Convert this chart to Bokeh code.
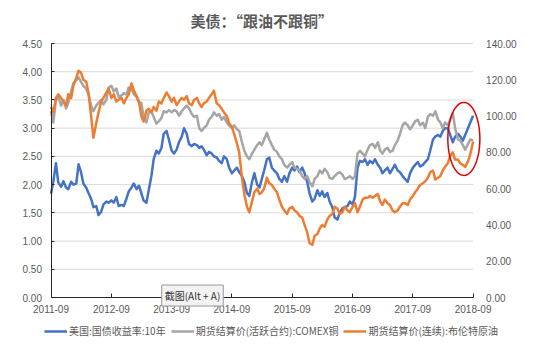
import numpy as np
import pandas as pd
from bokeh.plotting import figure
from bokeh.models import (Range1d, LinearAxis, FixedTicker, DatetimeTickFormatter,
                          Legend, LegendItem, Label, PolyAnnotation, NumeralTickFormatter)
from bokeh.embed import file_html
from bokeh.resources import INLINE

# ---------------- data (semi-monthly readings, 2011-09 .. 2018-09) ----------------
dates = pd.date_range("2011-09-01", periods=169, freq="SMS")

treasury_10y = [
    1.84, 2.05, 2.38, 2.04, 1.96, 2.06, 1.95, 1.92, 2.05, 2.00, 2.02, 2.36, 2.22, 2.02, 1.95, 1.85, 1.75, 1.60, 1.62, 1.46, 1.52, 1.65, 1.70, 1.68,
    1.72, 1.68, 1.78, 1.62, 1.64, 1.62, 1.75, 1.88, 1.95, 2.02, 1.92, 1.98, 1.85, 1.72, 1.68, 1.90, 2.15, 2.45, 2.60, 2.55, 2.65, 2.90, 2.95, 2.80,
    2.60, 2.55, 2.62, 2.75, 2.85, 3.00, 2.90, 2.72, 2.68, 2.72, 2.70, 2.65, 2.68, 2.62, 2.52, 2.58, 2.55, 2.50, 2.48, 2.42, 2.38, 2.50, 2.45, 2.30,
    2.20, 2.25, 2.30, 2.22, 2.15, 2.05, 1.85, 1.80, 2.05, 2.20, 2.00, 1.95, 2.10, 2.25, 2.45, 2.48, 2.30, 2.25, 2.20, 2.10, 2.05, 2.15, 2.05, 2.20,
    2.30, 2.25, 2.32, 2.22, 2.30, 2.20, 2.05, 1.85, 1.70, 1.75, 1.90, 1.80, 1.88, 1.78, 1.85, 1.70, 1.60, 1.42, 1.38, 1.50, 1.58, 1.60, 1.62, 1.70,
    1.65, 1.78, 2.30, 2.42, 2.40, 2.45, 2.35, 2.42, 2.38, 2.45, 2.35, 2.30, 2.20, 2.25, 2.30, 2.20, 2.28, 2.35, 2.25, 2.22, 2.15, 2.10, 2.05, 2.20,
    2.30, 2.35, 2.40, 2.32, 2.35, 2.40, 2.45, 2.60, 2.80, 2.85, 2.88, 2.85, 2.95, 3.00, 3.00, 2.88, 2.75, 2.85, 2.90, 2.85, 2.78, 2.88, 3.00, 3.10,
    3.22,
]

comex_copper = [
    3.30, 3.10, 3.50, 3.55, 3.40, 3.50, 3.35, 3.45, 3.65, 3.80, 3.85, 3.90, 3.82, 3.75, 3.70, 3.60, 3.40, 3.30, 3.40, 3.45, 3.50, 3.42, 3.50, 3.72,
    3.75, 3.65, 3.70, 3.55, 3.58, 3.62, 3.60, 3.72, 3.70, 3.60, 3.55, 3.45, 3.45, 3.20, 3.10, 3.28, 3.30, 3.20, 3.08, 3.12, 3.18, 3.30, 3.28, 3.32,
    3.28, 3.32, 3.30, 3.22, 3.30, 3.35, 3.40, 3.35, 3.25, 3.20, 3.22, 3.00, 2.95, 3.00, 3.05, 3.15, 3.20, 3.28, 3.22, 3.25, 3.15, 3.20, 3.10, 3.05,
    3.00, 3.05, 2.98, 2.95, 2.75, 2.60, 2.50, 2.45, 2.55, 2.62, 2.70, 2.75, 2.70, 2.80, 2.92, 2.80, 2.70, 2.62, 2.58, 2.50, 2.45, 2.35, 2.30, 2.35,
    2.40, 2.30, 2.28, 2.25, 2.15, 2.10, 2.15, 2.05, 1.97, 2.10, 2.15, 2.25, 2.20, 2.28, 2.22, 2.12, 2.10, 2.15, 2.20, 2.22, 2.18, 2.10, 2.12, 2.15,
    2.10, 2.15, 2.55, 2.60, 2.55, 2.50, 2.62, 2.70, 2.72, 2.65, 2.75, 2.60, 2.55, 2.62, 2.65, 2.58, 2.60, 2.70, 2.78, 2.90, 3.05, 3.10, 3.05, 2.98,
    3.05, 3.12, 3.15, 3.05, 3.10, 3.00, 3.20, 3.25, 3.22, 3.30, 3.15, 3.10, 3.00, 3.10, 3.05, 3.15, 3.27, 3.00, 2.80, 2.78, 2.70, 2.62, 2.72, 2.80,
    2.78,
]

brent_oil = [
    105, 102, 110, 112, 110, 108, 106, 112, 110, 117, 121, 125, 124, 120, 119, 113, 100, 88, 96, 102, 108, 110, 113, 115,
    110, 112, 108, 109, 110, 107, 110, 112, 118, 114, 111, 108, 100, 97, 103, 104, 102, 105, 103, 108, 107, 110, 113, 111,
    108, 110, 106, 108, 110, 109, 111, 107, 106, 109, 110, 107, 105, 107, 108, 110, 112, 114, 107, 106, 104, 102, 100, 96,
    94, 90, 85, 80, 66, 57, 50, 47, 53, 58, 60, 57, 58, 60, 66, 63, 62, 60, 58, 54, 50, 48, 46, 49,
    50, 48, 47, 45, 44, 40, 36, 30, 29, 34, 35, 38, 40, 39, 43, 45, 46, 50, 49, 46, 47, 50, 48, 47,
    50, 52, 47, 50, 54, 55, 55, 56, 55, 56, 57, 53, 51, 54, 52, 51, 48, 47, 48, 50, 52, 52, 51, 54,
    56, 58, 60, 62, 63, 64, 66, 69, 70, 65, 66, 67, 70, 72, 74, 78, 80, 76, 76, 74, 73, 72, 75, 79,
    86,
]

chart_title = "美债：“跟油不跟铜”"
series_names = ["美国:国债收益率:10年", "期货结算价(活跃合约):COMEX铜", "期货结算价(连续):布伦特原油"]
series_colors = ["#4472C4", "#A5A5A5", "#ED7D31"]
tick_labels = ["2011-09", "2012-09", "2013-09", "2014-09", "2015-09", "2016-09", "2017-09", "2018-09"]
left_ticks = [0, 0.5, 1.0, 1.5, 2.0, 2.5, 3.0, 3.5, 4.0, 4.5]
right_ticks = [0, 20, 40, 60, 80, 100, 120, 140]
left_max, right_max = 4.5, 140

TXT = "#595959"
CJK = "Noto Sans CJK SC"


def ms(ts):
    return pd.Timestamp(ts).value / 1e6


# Layout (pixels): the plot frame covers the whole canvas so that nothing outside
# the axes is clipped; the axes are pinned to the data extremes.
W, H = 550, 351
AX_L, AX_R, AX_T, AX_B = 50.5, 472.6, 43, 297

t0, t1 = ms(dates[0]), ms(dates[-1])
span = t1 - t0
x_start = t0 - span * (AX_L / (AX_R - AX_L))
x_end = t1 + span * ((W - AX_R) / (AX_R - AX_L))
unit = left_max / (AX_B - AX_T)          # left-axis units per pixel
y_lo = -unit * (H - AX_B)
y_hi = left_max + unit * AX_T

p = figure(width=W, height=H, x_axis_type="datetime", output_backend="svg",
           toolbar_location=None,
           x_range=Range1d(x_start, x_end), y_range=Range1d(y_lo, y_hi),
           min_border_left=0, min_border_right=0, min_border_top=0, min_border_bottom=0)
p.extra_y_ranges = {"oil": Range1d(y_lo * right_max / left_max, y_hi * right_max / left_max)}
p.outline_line_color = None
p.background_fill_color = "white"
p.border_fill_color = "white"
p.title.visible = False

# horizontal grid lines only across the axes' extent
p.xgrid.visible = False
p.ygrid.visible = False
n = len(left_ticks)
p.segment(x0=[t0] * n, y0=left_ticks, x1=[t1] * n, y1=left_ticks,
          line_color="#d9d9d9", line_width=1)

# x axis
xa = p.xaxis[0]
xa.fixed_location = 0
xa.bounds = (t0, t1)
xa.ticker = FixedTicker(ticks=[ms(t + "-01") for t in tick_labels])
fmt = "%Y-%m"
xa.formatter = DatetimeTickFormatter(years=fmt, months=fmt, days=fmt, hours=fmt,
                                     minutes=fmt, seconds=fmt, milliseconds=fmt,
                                     microseconds=fmt, hourmin=fmt, minsec=fmt)
xa.axis_line_color = "#262626"
xa.major_tick_line_color = "#262626"
xa.major_tick_in = 4
xa.major_tick_out = 0
xa.minor_tick_line_color = None
xa.major_label_text_font = "Liberation Sans"
xa.major_label_text_font_size = "10px"
xa.major_label_text_color = TXT
xa.major_label_standoff = 7

# left axis
ya = p.yaxis[0]
ya.fixed_location = t0
ya.bounds = (0, left_max)
ya.ticker = FixedTicker(ticks=left_ticks)
ya.formatter = NumeralTickFormatter(format="0.00")
ya.axis_line_color = "#262626"
ya.major_tick_line_color = "#262626"
ya.major_tick_in = 3
ya.major_tick_out = 0
ya.minor_tick_line_color = None
ya.major_label_text_font = "Liberation Sans"
ya.major_label_text_font_size = "10px"
ya.major_label_text_color = TXT
ya.major_label_standoff = 9

# right axis
ra = LinearAxis(y_range_name="oil", ticker=FixedTicker(ticks=right_ticks),
                formatter=NumeralTickFormatter(format="0.00"), bounds=(0, right_max))
ra.fixed_location = t1
ra.axis_line_color = None
ra.major_tick_line_color = None
ra.minor_tick_line_color = None
ra.major_label_text_font = "Liberation Sans"
ra.major_label_text_font_size = "10px"
ra.major_label_text_color = TXT
ra.major_label_standoff = 7
p.add_layout(ra, "right")

# series
r1 = p.line(dates, treasury_10y, line_color=series_colors[0], line_width=2.5, line_join="round")
r2 = p.line(dates, comex_copper, line_color=series_colors[1], line_width=2.5, line_join="round")
r3 = p.line(dates, brent_oil, line_color=series_colors[2], line_width=2.5, line_join="round",
            y_range_name="oil")

legend = Legend(items=[LegendItem(label=series_names[0], renderers=[r1]),
                       LegendItem(label=series_names[1], renderers=[r2]),
                       LegendItem(label=series_names[2], renderers=[r3])],
                location=(44, 13), orientation="horizontal",
                border_line_color=None, background_fill_alpha=0,
                label_text_font=CJK, label_text_font_size="10px", label_text_color=TXT,
                glyph_width=23, glyph_height=10, label_standoff=2, spacing=5,
                padding=0, margin=0)
p.add_layout(legend)

# title
p.add_layout(Label(x=265, y=H - 20, x_units="screen", y_units="screen",
                   text=chart_title, text_align="center", text_baseline="middle",
                   text_font=CJK, text_font_size="15px", text_font_style="bold",
                   text_color=TXT))

# red highlight ellipse
ell_center = ms("2018-07-07")
ell_half_w = 97 * 86400000.0
ell_cy, ell_half_h = 2.81, 0.647
t = np.linspace(0, 2 * np.pi, 90)
p.add_layout(PolyAnnotation(xs=list(ell_center + ell_half_w * np.cos(t)),
                            ys=list(ell_cy + ell_half_h * np.sin(t)),
                            fill_alpha=0, line_alpha=1.0,
                            line_color="#e00000", line_width=1.5))

# screenshot-tool tooltip visible in the reference
tip = Label(x=192, y=H - 295, x_units="screen", y_units="screen",
            text="截图(Alt + A)", text_align="center", text_baseline="middle",
            text_font=CJK, text_font_size="10px", text_color="#333333",
            background_fill_color="#f3f3f3", border_line_color="#9a9a9a",
            padding=3)
p.add_layout(tip)

open("out.html", "w").write(file_html(p, INLINE))
